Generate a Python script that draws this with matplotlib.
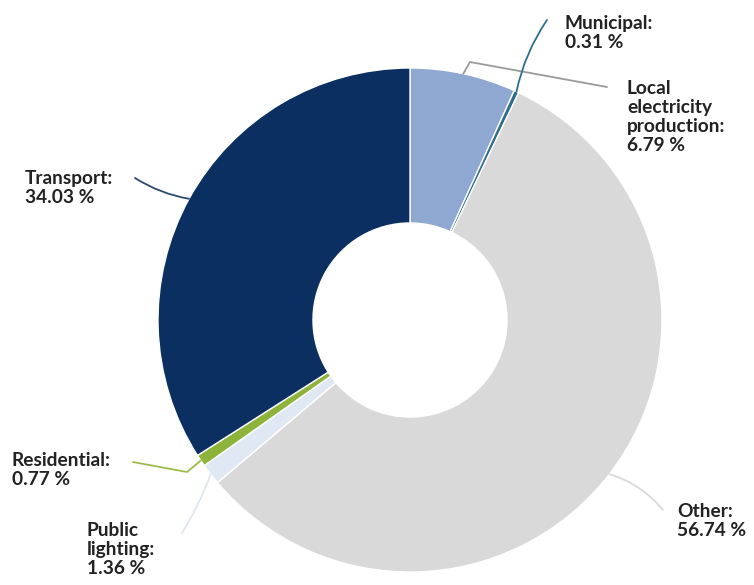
import numpy as np
import matplotlib
matplotlib.use("Agg")
import matplotlib.pyplot as plt

labels = ["Local\nelectricity\nproduction", "Municipal", "Other", "Public\nlighting", "Residential", "Transport"]
values = [6.79, 0.31, 56.74, 1.36, 0.77, 34.03]
colors = ["#8fa8d2", "#2f6d8e", "#d9d9d9", "#dfe8f3", "#8db33a", "#0b2f61"]
line_colors = ["#9a9a9a", "#2f6d8e", "#dadada", "#dfe6ee", "#9dbb4a", "#2c4a6e"]

W, H = 754, 585
CX, CY, R = 410, 320, 252  # pixel centre/radius

fig = plt.figure(figsize=(W/100, H/100), dpi=100)
ax = fig.add_axes([0, 0, 1, 1])

def px(x, y):
    return ((x - CX) / R, (CY - y) / R)

wedges, _ = ax.pie(values, colors=colors, startangle=90, counterclock=False,
                   radius=1.0, wedgeprops=dict(width=0.615, edgecolor="white", linewidth=1.0))
ax.set_xlim(-CX / R, (W - CX) / R)
ax.set_ylim(-(H - CY) / R, CY / R)
ax.set_aspect("equal", adjustable="box")
ax.axis("off")

# text positions (pixels, top-left)
text_pos = {
    "Local\nelectricity\nproduction": (627, 80),
    "Municipal": (565, 15),
    "Other": (677, 503),
    "Public\nlighting": (87, 522),
    "Residential": (12, 452),
    "Transport": (25, 170),
}
# leader end points (pixels)
line_end = {
    "Local\nelectricity\nproduction": [(470, 62), (607, 87)],
    "Municipal": [(547, 20)],
    "Other": [(663, 510)],
    "Public\nlighting": [(182, 533)],
    "Residential": [(187, 472), (133, 462)],
    "Transport": [(135, 178)],
}
rads = {"Municipal": 0.1, "Other": 0.15, "Public\nlighting": 0.05, "Transport": 0.1}

for w, lab, val, lc in zip(wedges, labels, values, line_colors):
    ang = np.deg2rad((w.theta1 + w.theta2) / 2)
    start = (np.cos(ang), np.sin(ang))
    pts = [start] + [px(*p) for p in line_end[lab]]
    if len(pts) == 2:
        ax.annotate("", xy=start, xytext=pts[1],
                    arrowprops=dict(arrowstyle="-", color=lc, lw=1.3,
                                    connectionstyle=f"arc3,rad={rads.get(lab, 0)}",
                                    shrinkA=0, shrinkB=0))
    else:
        xs, ys = zip(*pts)
        ax.plot(xs, ys, color=lc, lw=1.3, solid_capstyle="round")
    tx, ty = px(*text_pos[lab])
    ax.text(tx, ty, f"{lab}:\n{val:.2f} %", ha="left", va="top",
            fontsize=13.8, fontweight="bold", family="Lato", color="#222222",
            linespacing=1.15)

fig.savefig("out.png", dpi=100)
